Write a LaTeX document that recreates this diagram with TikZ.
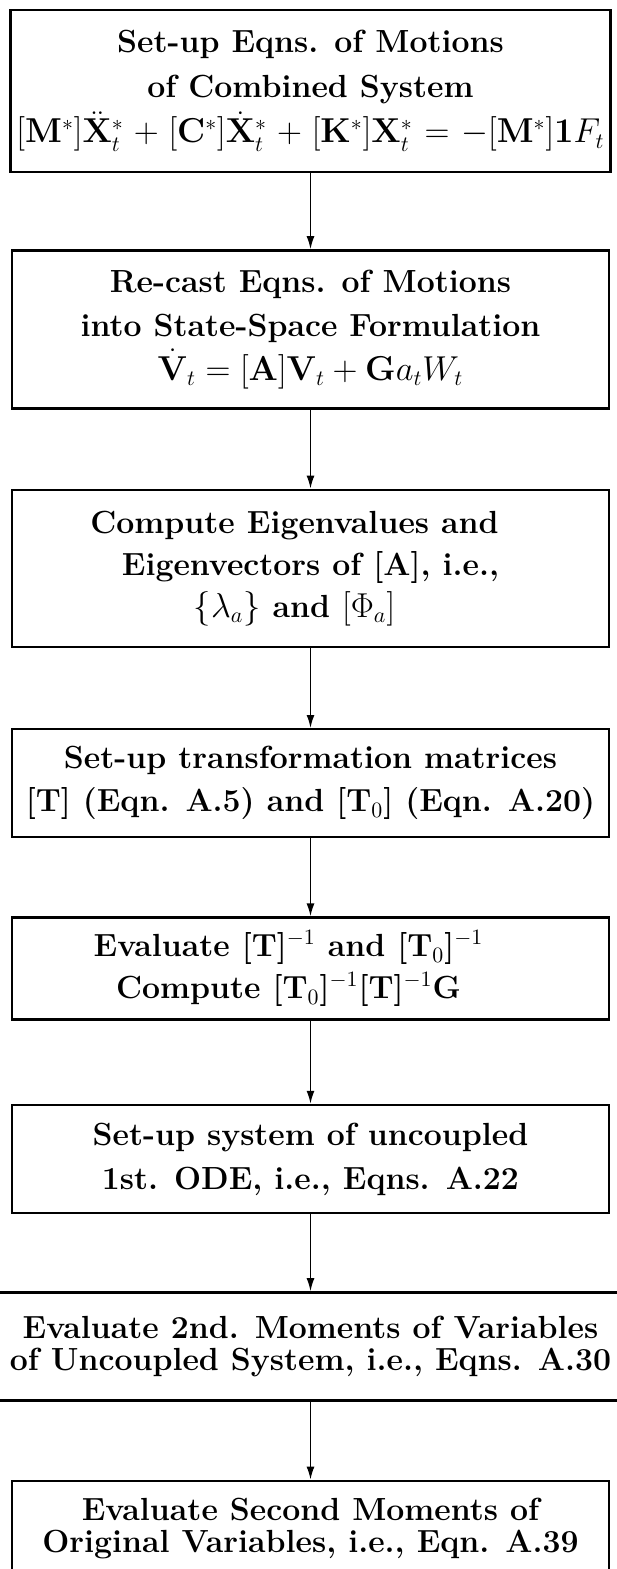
\documentclass[tikz,border=0pt]{standalone}
\usepackage{amsmath,amssymb}
\usepackage{tikz}
\usetikzlibrary{positioning,arrows.meta}

\begin{document}
\begin{tikzpicture}[
    x=0.5pt,y=-0.5pt,
    linesep/.style={font=\fontsize{16}{#1}\selectfont\bfseries},
    stage/.style={draw,line width=1.2pt,align=center,minimum width=298.5pt,inner sep=3pt,linesep=21pt},
    arr/.style={-{Latex[length=6.5pt,width=4pt]},line width=0.8pt}
  ]
  \useasboundingbox (0,0) rectangle (616,1569);

  \node[stage,linesep=22.5pt,minimum height=81pt] (motion) at (310.5,91)
    {Set-up Eqns. of Motions\\ of Combined System\\
     \hbox to 294pt{\medmuskip=4mu plus 30mu\thickmuskip=5mu plus 30mu
     $[\mathbf{M}^*]\ddot{\mathbf{X}}^*_t+[\mathbf{C}^*]\dot{\mathbf{X}}^*_t+[\mathbf{K}^*]\mathbf{X}^*_t=-[\mathbf{M}^*]\mathbf{1}F_t$}};
  \node[stage,linesep=22pt,minimum height=79pt,below=38pt of motion] (statespace)
    {Re-cast Eqns. of Motions\\ into State-Space Formulation\\
     $\dot{\mathbf{V}}_t=[\mathbf{A}]\mathbf{V}_t+\mathbf{G}a_tW_t$};
  \node[stage,minimum height=78.5pt,below=39.5pt of statespace] (eigen)
    {Compute Eigenvalues and\hspace*{16pt}\\ Eigenvectors of [A], i.e.,\hspace*{16pt}\\
     $\{\lambda_a\}$ and $[\Phi_a]$\hspace*{16pt}};
  \node[stage,linesep=21.5pt,minimum height=54pt,below=40pt of eigen] (transf)
    {Set-up transformation matrices\\ {}[T] (Eqn. A.5) and [T$_0$] (Eqn. A.20)};
  \node[stage,minimum height=51pt,below=39pt of transf] (inverse)
    {Evaluate [T]$^{-1}$ and [T$_0$]$^{-1}$\hspace*{22pt}\\
     Compute [T$_0$]$^{-1}$[T]$^{-1}$G\hspace*{22pt}};
  \node[stage,linesep=22pt,minimum height=54pt,below=41.5pt of inverse] (uncoupled)
    {Set-up system of uncoupled\\ 1st. ODE, i.e., Eqns. A.22};
  \node[stage,linesep=16pt,minimum height=54pt,minimum width=318pt,below=38.5pt of uncoupled] (moments)
    {Evaluate 2nd. Moments of Variables\\ of Uncoupled System, i.e., Eqns. A.30};
  \node[stage,linesep=16pt,minimum height=48pt,below=39pt of moments] (original)
    {Evaluate Second Moments of\\ Original Variables, i.e., Eqn. A.39};

  \draw[arr] (motion) -- (statespace);
  \draw[arr] (statespace) -- (eigen);
  \draw[arr] (eigen) -- (transf);
  \draw[arr] (transf) -- (inverse);
  \draw[arr] (inverse) -- (uncoupled);
  \draw[arr] (uncoupled) -- (moments);
  \draw[arr] (moments) -- (original);
\end{tikzpicture}
\end{document}
